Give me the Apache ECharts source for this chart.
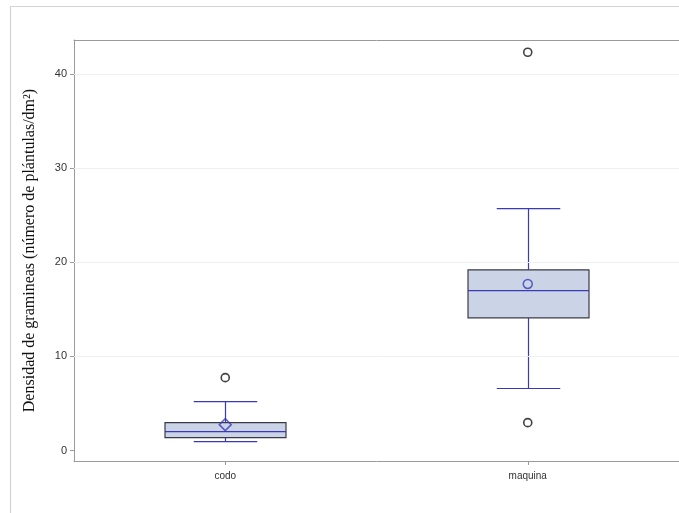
<!DOCTYPE html>
<html>
<head>
<meta charset="utf-8">
<script src="https://cdn.jsdelivr.net/npm/echarts@6/dist/echarts.min.js"></script>
<style>
  html, body { margin: 0; padding: 0; background: #fff; }
  #chart { width: 679px; height: 513px; }
</style>
</head>
<body>
<div id="chart"></div>
<script>
// Grass seedling density by sowing method
const categories = ['codo', 'maquina'];
const whiskerLow = [0.95, 6.6];
const q1 = [1.38, 14.1];
const median = [2.02, 17.0];
const q3 = [2.97, 19.2];
const whiskerHigh = [5.2, 25.7];
const means = [2.76, 17.7];
const outliers = [[0, 7.75], [1, 42.3], [1, 2.97]];
const yTicks = [0, 10, 20, 30, 40];
const yTitle = 'Densidad de gramineas (número de plántulas/dm²)';

const BOX_BLUE = '#3a3ab8';
const BOX_FILL = '#cbd4e7';
const BOX_EDGE = '#3a3a46';
const FRAME = '#9a9a9a';

const boxData = categories.map((c, i) => [i, whiskerLow[i], q1[i], median[i], q3[i], whiskerHigh[i]]);

function renderBox(params, api) {
  const x = api.value(0);
  const band = api.size([1, 0])[0];
  const halfBox = band * 0.2;
  const halfCap = band * 0.105;
  const pLow = api.coord([x, api.value(1)]);
  const pQ1 = api.coord([x, api.value(2)]);
  const pMed = api.coord([x, api.value(3)]);
  const pQ3 = api.coord([x, api.value(4)]);
  const pHigh = api.coord([x, api.value(5)]);
  const cx = Math.round(pMed[0]) + 0.5;
  const line = (x1, y1, x2, y2) => ({
    type: 'line',
    shape: { x1, y1, x2, y2 },
    style: { stroke: BOX_BLUE, lineWidth: 1.2 }
  });
  return {
    type: 'group',
    children: [
      line(cx, pHigh[1], cx, pQ3[1]),
      line(cx, pQ1[1], cx, pLow[1]),
      line(cx - halfCap, pHigh[1], cx + halfCap, pHigh[1]),
      line(cx - halfCap, pLow[1], cx + halfCap, pLow[1]),
      {
        type: 'rect',
        shape: { x: cx - halfBox, y: pQ3[1], width: halfBox * 2, height: pQ1[1] - pQ3[1] },
        style: { fill: BOX_FILL, stroke: BOX_EDGE, lineWidth: 1.2 }
      },
      line(cx - halfBox, pMed[1], cx + halfBox, pMed[1])
    ]
  };
}

const chart = echarts.init(document.getElementById('chart'));
chart.setOption({
  animation: false,
  backgroundColor: '#fff',
  graphic: [{
    type: 'rect',
    shape: { x: 10.5, y: 6.5, width: 720, height: 560 },
    style: { fill: 'none', stroke: '#d4d4d4', lineWidth: 1.2 },
    silent: true,
    z: -1
  }],
  grid: { left: 74, top: 40, right: 0, bottom: 52 },
  xAxis: [
    {
      type: 'category',
      data: categories,
      boundaryGap: true,
      axisLine: { show: true, onZero: false, lineStyle: { color: FRAME, width: 1 } },
      axisTick: { show: true, alignWithLabel: true, length: 4, lineStyle: { color: FRAME } },
      axisLabel: { color: '#333', fontFamily: 'Liberation Sans, Arial, sans-serif', fontSize: 10, margin: 10 },
      splitLine: { show: false }
    },
    {
      type: 'category',
      data: categories,
      position: 'top',
      axisLine: { show: true, onZero: false, lineStyle: { color: FRAME, width: 1 } },
      axisTick: { show: false },
      axisLabel: { show: false },
      splitLine: { show: false }
    }
  ],
  yAxis: {
    type: 'value',
    min: -1.1,
    max: 43.6,
    name: yTitle,
    nameLocation: 'middle',
    nameGap: 36,
    nameTextStyle: { fontFamily: 'Liberation Serif, Times New Roman, serif', fontSize: 16, color: '#111' },
    axisLine: { show: true, onZero: false, lineStyle: { color: FRAME, width: 1 } },
    axisTick: { show: true, customValues: yTicks, length: 4, lineStyle: { color: FRAME } },
    axisLabel: { customValues: yTicks, color: '#333', fontFamily: 'Liberation Sans, Arial, sans-serif', fontSize: 11, margin: 7 },
    splitLine: { show: false }
  },
  series: [
    {
      type: 'custom',
      renderItem: renderBox,
      data: boxData,
      encode: { x: 0, y: [1, 2, 3, 4, 5] },
      markLine: {
        silent: true,
        symbol: 'none',
        label: { show: false },
        lineStyle: { color: '#efefef', width: 1, type: 'solid' },
        data: yTicks.slice(1).map(v => ({ yAxis: v }))
      },
      z: 2
    },
    {
      type: 'scatter',
      data: means.map((m, i) => ({ value: [i, m], symbol: i === 0 ? 'diamond' : 'circle', symbolSize: i === 0 ? 12 : 9 })),
      itemStyle: { color: 'transparent', borderColor: BOX_BLUE, borderWidth: 1.5 },
      z: 3
    },
    {
      type: 'scatter',
      data: outliers,
      symbol: 'circle',
      symbolSize: 8,
      itemStyle: { color: '#fff', borderColor: '#111', borderWidth: 1.6 },
      z: 3
    }
  ]
});
</script>
</body>
</html>
